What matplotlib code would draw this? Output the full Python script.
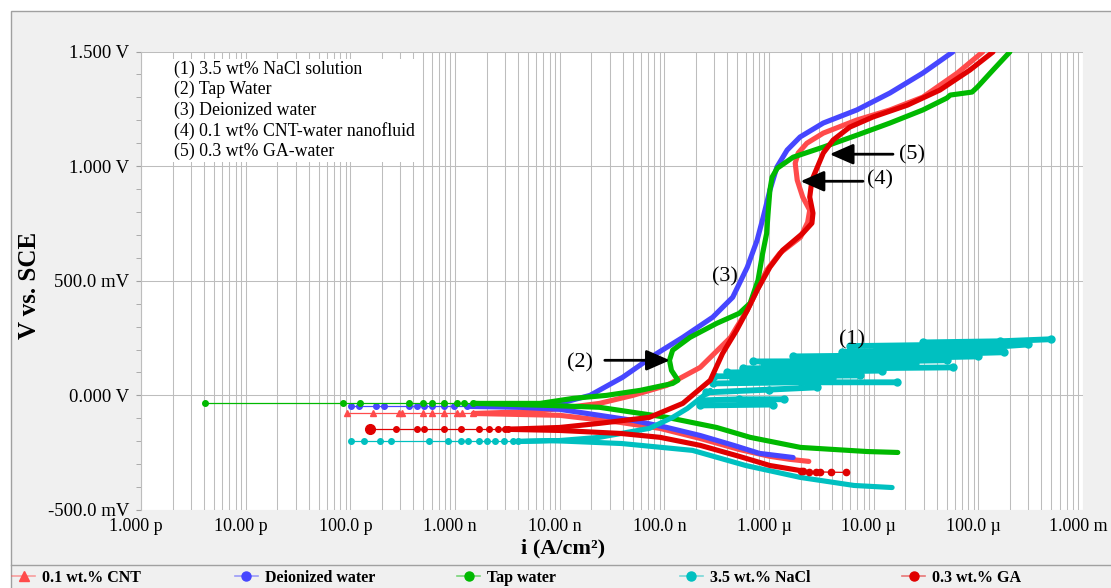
"""
Tafel polarization curves of the five test fluids (log current vs potential).
"""
import matplotlib
matplotlib.use("Agg")
import matplotlib.pyplot as plt
from matplotlib.lines import Line2D
from matplotlib.patches import Rectangle
from matplotlib.ticker import LogLocator, MultipleLocator, NullFormatter
from matplotlib.transforms import ScaledTranslation

plt.rcParams["font.family"] = ["Liberation Serif", "DejaVu Serif"]

# ---- axes ticks -------------------------------------------------------------
x_ticks = [1e-12, 1e-11, 1e-10, 1e-9, 1e-8, 1e-7, 1e-6, 1e-5, 1e-4, 1e-3]
x_tick_labels = ["1.000 p", "10.00 p", "100.0 p", "1.000 n", "10.00 n", "100.0 n",
                 "1.000 \u00b5", "10.00 \u00b5", "100.0 \u00b5", "1.000 m"]
y_ticks = [-0.5, 0.0, 0.5, 1.0, 1.5]
y_tick_labels = ["-500.0 mV", "0.000 V", "500.0 mV", "1.000 V", "1.500 V"]

# ---- 0.1 wt.% CNT -----------------------------------------------------------
cnt_ecorr_v = -0.079
cnt_ecorr_i = [9.3e-11, 1.66e-10, 2.9e-10, 3.1e-10, 4.9e-10, 6.0e-10, 7.8e-10, 1.05e-9, 1.17e-9]
cnt_cath_i = [1.5e-9, 1.0e-8, 3.8e-8, 9.1e-8, 2.2e-7, 5.2e-7, 1.02e-6, 1.58e-6, 2.4e-6]
cnt_cath_v = [-0.079, -0.087, -0.118, -0.144, -0.188, -0.236, -0.266, -0.279, -0.288]
cnt_anod_i = [1.5e-9, 6e-9, 1.0e-8, 2.4e-8, 5.0e-8, 1.06e-7, 2.2e-7, 4.3e-7, 4.9e-7, 6.2e-7,
              7.7e-7, 9.5e-7, 1.27e-6, 2.0e-6, 2.34e-6, 2.45e-6, 2.1e-6, 1.86e-6, 1.78e-6,
              1.9e-6, 2.3e-6, 3.3e-6, 6.9e-6, 1.43e-5, 2.95e-5, 6.3e-5, 1.1e-4]
cnt_anod_v = [-0.079, -0.070, -0.057, -0.035, 0.0, 0.044, 0.122, 0.253, 0.297, 0.371,
              0.459, 0.546, 0.620, 0.690, 0.755, 0.808, 0.865, 0.939, 1.013,
              1.057, 1.100, 1.144, 1.201, 1.245, 1.301, 1.406, 1.498]

# ---- Deionized water --------------------------------------------------------
di_ecorr_v = -0.048
di_ecorr_i = [1.02e-10, 1.2e-10, 1.74e-10, 2.1e-10, 3.6e-10, 4.3e-10, 5.1e-10, 6.0e-10, 7.8e-10, 9.8e-10]
di_cath_i = [1.3e-9, 4.2e-9, 1.0e-8, 2.4e-8, 5.0e-8, 1.06e-7, 2.2e-7, 4.6e-7, 8.1e-7, 1.7e-6]
di_cath_v = [-0.048, -0.052, -0.061, -0.087, -0.109, -0.140, -0.175, -0.218, -0.253, -0.271]
di_anod_i = [1.3e-9, 5e-9, 1.0e-8, 1.95e-8, 4.0e-8, 8.5e-8, 1.5e-7, 2.9e-7, 4.5e-7, 6.2e-7,
             7.7e-7, 8.8e-7, 1.02e-6, 1.19e-6, 1.49e-6, 1.98e-6, 3.3e-6, 6.9e-6, 1.43e-5,
             2.95e-5, 5.7e-5]
di_anod_v = [-0.048, -0.046, -0.035, 0.0, 0.079, 0.183, 0.253, 0.341, 0.428, 0.559,
             0.677, 0.777, 0.895, 0.996, 1.070, 1.127, 1.188, 1.245, 1.319,
             1.406, 1.498]

# ---- Tap water --------------------------------------------------------------
tap_ecorr_v = -0.035
tap_ecorr_i = [4.1e-12, 8.5e-11, 1.23e-10, 3.6e-10, 5.0e-10, 6.0e-10, 7.9e-10, 1.05e-9, 1.23e-9]
tap_cath_i = [1.5e-9, 8.1e-9, 2.4e-8, 1.06e-7, 3.16e-7, 6.6e-7, 2.0e-6, 8.7e-6, 1.7e-5]
tap_cath_v = [-0.035, -0.044, -0.052, -0.096, -0.140, -0.183, -0.227, -0.245, -0.249]
tap_anod_i = [1.5e-9, 6.5e-9, 1.35e-8, 2.8e-8, 5.9e-8, 1.2e-7, 1.35e-7, 1.17e-7, 1.12e-7,
              1.2e-7, 1.76e-7, 3.16e-7, 5.2e-7, 6.6e-7, 7.85e-7, 8.7e-7, 9.5e-7, 9.8e-7,
              1.02e-6, 1.07e-6, 1.2e-6, 1.7e-6, 3.3e-6, 6.9e-6, 1.43e-5, 2.95e-5, 5.0e-5,
              5.4e-5, 8.7e-5, 9.8e-5, 1.38e-4, 2.0e-4]
tap_anod_v = [-0.035, -0.035, -0.013, 0.0, 0.022, 0.052, 0.066, 0.109, 0.153,
              0.197, 0.253, 0.314, 0.358, 0.402, 0.502, 0.620, 0.707, 0.795,
              0.895, 0.952, 0.991, 1.039, 1.083, 1.135, 1.188, 1.245, 1.297,
              1.310, 1.323, 1.345, 1.419, 1.498]

# ---- 3.5 wt.% NaCl ----------------------------------------------------------
nacl_ecorr_v = -0.201
nacl_ecorr_i = [1.02e-10, 1.35e-10, 1.9e-10, 2.45e-10, 5.6e-10, 8.5e-10, 1.15e-9, 1.33e-9,
                1.7e-9, 2.0e-9, 2.4e-9, 2.95e-9, 3.6e-9]
nacl_cath_i = [4e-9, 8.1e-9, 3.9e-8, 1.86e-7, 6.0e-7, 2.0e-6, 6.5e-6, 1.5e-5]
nacl_cath_v = [-0.201, -0.197, -0.210, -0.240, -0.306, -0.358, -0.393, -0.402]
nacl_anod_i = [4e-9, 1.0e-8, 2.4e-8, 7.2e-8, 1.2e-7, 1.66e-7, 2.2e-7, 2.75e-7]
nacl_anod_v = [-0.201, -0.197, -0.183, -0.144, -0.096, -0.057, -0.013, 0.022]
# noisy pitting band above the anodic knee, read as horizontal streaks
nacl_band_i = [[2.2e-7, 1.1e-6], [2.2e-7, 5.2e-7, 1.4e-6], [2.5e-7, 1.0e-6, 2.9e-6],
               [2.9e-7, 2.0e-6, 1.66e-5], [3.0e-7, 2.0e-6, 7.4e-6], [4.0e-7, 3.0e-6, 1.2e-5],
               [5.6e-7, 5.9e-6, 5.75e-5], [7.1e-7, 1.78e-5, 5.0e-5], [2.5e-6, 3.0e-5, 1.0e-4],
               [1.7e-6, 1.78e-5, 1.74e-4], [5.0e-6, 6.0e-5, 3.0e-4], [1.07e-5, 1.62e-4],
               [2.95e-5, 1.62e-4, 5.0e-4], [4.5e-7, 1.5e-6, 4.0e-6], [9.0e-7, 8.0e-6, 2.5e-5],
               [6.0e-6, 4.0e-5, 2.2e-4]]
nacl_band_v = [[-0.044, -0.040], [-0.022, -0.017, -0.017], [0.013, 0.025, 0.035],
               [0.052, 0.057, 0.057], [0.083, 0.085, 0.087], [0.100, 0.104, 0.108],
               [0.118, 0.118, 0.122], [0.148, 0.150, 0.153], [0.160, 0.165, 0.170],
               [0.170, 0.175, 0.188], [0.190, 0.200, 0.222], [0.205, 0.210],
               [0.231, 0.236, 0.245], [0.070, 0.072, 0.075], [0.135, 0.138, 0.140],
               [0.215, 0.220, 0.232]]

# ---- 0.3 wt.% GA ------------------------------------------------------------
ga_ecorr_v = -0.148
ga_ecorr_i = [1.55e-10, 2.75e-10, 4.3e-10, 5.1e-10, 7.9e-10, 1.15e-9, 1.7e-9, 2.1e-9, 2.6e-9, 3.2e-9]
ga_cath_i = [3e-9, 1.0e-8, 3.8e-8, 9.1e-8, 2.2e-7, 5.2e-7, 1.02e-6, 2.0e-6]
ga_cath_v = [-0.148, -0.153, -0.166, -0.183, -0.218, -0.266, -0.306, -0.328]
ga_tail_i = [2.0e-6, 2.1e-6, 2.4e-6, 2.8e-6, 3.1e-6, 3.9e-6, 5.4e-6]
ga_tail_v = [-0.328, -0.332, -0.333, -0.334, -0.334, -0.335, -0.336]
ga_anod_i = [3e-9, 1.0e-8, 2.4e-8, 7.2e-8, 1.5e-7, 2.75e-7, 3.6e-7, 4.9e-7, 6.2e-7, 7.7e-7,
             1.02e-6, 1.35e-6, 2.1e-6, 2.57e-6, 2.63e-6, 2.45e-6, 2.57e-6, 2.9e-6, 3.3e-6,
             4.1e-6, 5.9e-6, 9.8e-6, 2.1e-5, 4.3e-5, 8.3e-5, 1.38e-4]
ga_anod_v = [-0.148, -0.140, -0.122, -0.096, -0.035, 0.066, 0.183, 0.284, 0.371, 0.459,
             0.559, 0.633, 0.707, 0.751, 0.795, 0.865, 0.939, 0.996, 1.057,
             1.114, 1.170, 1.214, 1.266, 1.332, 1.419, 1.498]

legend_names = ["0.1 wt.% CNT", "Deionized water", "Tap water", "3.5 wt.% NaCl", "0.3 wt.% GA"]
box_lines = ["(1) 3.5 wt% NaCl solution", "(2) Tap Water", "(3) Deionized water",
             "(4) 0.1 wt% CNT-water nanofluid", "(5) 0.3 wt% GA-water"]

COLORS = {"cnt": "#ff4b4b", "di": "#4646ff", "tap": "#00b900", "nacl": "#00c0c0", "ga": "#e00000"}
MARKERS = {"cnt": "^", "di": "o", "tap": "o", "nacl": "o", "ga": "o"}
THICK = 3.7
GRID = "#bdbdbd"


def draw_curve(ax, key, ecorr_v, ecorr_i, cath_i, cath_v, anod_i, anod_v):
    c = COLORS[key]
    # sparse points around the corrosion potential
    ax.plot(ecorr_i + [anod_i[0]], [ecorr_v] * (len(ecorr_i) + 1), color=c, lw=0.9,
            marker=MARKERS[key], ms=4, mec=c, mfc=c, zorder=3)
    ax.plot(cath_i, cath_v, color=c, lw=THICK, solid_capstyle="round",
            solid_joinstyle="round", zorder=3)
    ax.plot(anod_i, anod_v, color=c, lw=THICK, solid_capstyle="round",
            solid_joinstyle="round", zorder=3)


def main():
    fig = plt.figure(figsize=(11.11, 5.88), dpi=100, facecolor="white")
    # grey panel with a thin border, and the legend strip separator
    fig.patches.append(Rectangle((10.5 / 1111, -0.01), 1.0, 1 - 11 / 588 + 0.01,
                                 transform=fig.transFigure, facecolor="#f0f0f0",
                                 edgecolor="#a0a0a0", lw=1, zorder=-10))
    fig.lines.append(Line2D([10.5 / 1111, 1.0], [1 - 565 / 588] * 2, transform=fig.transFigure,
                            color="#a0a0a0", lw=1))

    ax = fig.add_axes([141 / 1111, 78 / 588, 942 / 1111, 458.5 / 588])
    ax.set_facecolor("white")
    ax.set_xscale("log")
    ax.set_xlim(1e-12, 1e-3)
    ax.set_ylim(-0.5, 1.5)

    ax.set_xticks(x_ticks, labels=x_tick_labels)
    ax.xaxis.set_minor_locator(LogLocator(base=10, subs=range(2, 10), numticks=30))
    ax.xaxis.set_minor_formatter(NullFormatter())
    ax.set_yticks(y_ticks, labels=y_tick_labels)
    ax.yaxis.set_minor_locator(MultipleLocator(0.1))

    ax.grid(True, which="major", color=GRID, lw=0.75)
    ax.grid(True, which="minor", axis="x", color=GRID, lw=0.75)
    ax.set_axisbelow(True)
    for s in ["top", "right", "bottom"]:
        ax.spines[s].set_visible(False)
    ax.spines["left"].set_color(GRID)

    ax.tick_params(axis="x", which="both", length=0, pad=6, labelsize=13)
    ax.tick_params(axis="y", which="both", length=3.5, color="#a0a0a0", pad=5, labelsize=13.5)
    shift = ScaledTranslation(-5 / 100, 0, fig.dpi_scale_trans)
    for lab in ax.get_xticklabels():
        lab.set_transform(lab.get_transform() + shift)

    draw_curve(ax, "cnt", cnt_ecorr_v, cnt_ecorr_i, cnt_cath_i, cnt_cath_v, cnt_anod_i, cnt_anod_v)
    draw_curve(ax, "di", di_ecorr_v, di_ecorr_i, di_cath_i, di_cath_v, di_anod_i, di_anod_v)
    draw_curve(ax, "tap", tap_ecorr_v, tap_ecorr_i, tap_cath_i, tap_cath_v, tap_anod_i, tap_anod_v)
    draw_curve(ax, "nacl", nacl_ecorr_v, nacl_ecorr_i, nacl_cath_i, nacl_cath_v,
               nacl_anod_i, nacl_anod_v)
    for bi, bv in zip(nacl_band_i, nacl_band_v):
        ax.plot(bi, bv, color=COLORS["nacl"], lw=4.2, marker="o", ms=5,
                solid_capstyle="round", zorder=3)
    draw_curve(ax, "ga", ga_ecorr_v, ga_ecorr_i, ga_cath_i, ga_cath_v, ga_anod_i, ga_anod_v)
    ax.plot(ga_tail_i, ga_tail_v, color=COLORS["ga"], lw=0.9, marker="o", ms=4.5, zorder=3)
    ax.plot(ga_ecorr_i[:1], [ga_ecorr_v], color=COLORS["ga"], marker="o", ms=7, zorder=3)

    # labels on the curves
    ax.text(6.2e-6, 0.240, "(1)", fontsize=16, ha="center", va="center")
    ax.text(1.56e-8, 0.140, "(2)", fontsize=16, ha="center", va="center")
    ax.text(3.8e-7, 0.515, "(3)", fontsize=16, ha="center", va="center")
    ax.text(1.15e-5, 0.939, "(4)", fontsize=16, ha="center", va="center")
    ax.text(2.3e-5, 1.048, "(5)", fontsize=16, ha="center", va="center")
    arrow = dict(arrowstyle="-|>,head_length=0.8,head_width=0.35", color="black", lw=2,
                 shrinkA=0, shrinkB=0, mutation_scale=18)
    ax.annotate("", xy=(1.13e-7, 0.153), xytext=(2.7e-8, 0.153), arrowprops=arrow, zorder=5)
    ax.annotate("", xy=(2.0e-6, 0.934), xytext=(7.9e-6, 0.934), arrowprops=arrow, zorder=5)
    ax.annotate("", xy=(3.8e-6, 1.052), xytext=(1.53e-5, 1.052), arrowprops=arrow, zorder=5)

    ax.text(0.035, 0.980, "\n".join(box_lines), transform=ax.transAxes, fontsize=12.8,
            ha="left", va="top", linespacing=1.23, zorder=6,
            bbox=dict(facecolor="white", edgecolor="none", pad=1.5))

    fig.text(563 / 1111, 1 - 548 / 588, "i (A/cm\u00b2)", fontsize=16, fontweight="bold",
             ha="center", va="center")
    fig.text(30 / 1111, 1 - 285 / 588, "V vs. SCE", fontsize=18, fontweight="bold",
             ha="center", va="center", rotation=90)

    # legend strip: five evenly spaced entries
    for k, (key, name) in enumerate(zip(COLORS, legend_names)):
        c = COLORS[key]
        h = Line2D([], [], color=c + "80", lw=1.2, marker=MARKERS[key], ms=6.5,
                   mfc=c, mec=c)
        fig.legend(handles=[h], labels=[name], loc="center left",
                   bbox_to_anchor=((12 + k * 222.5) / 1111, 1 - 578 / 588),
                   frameon=False, borderpad=0, borderaxespad=0, handlelength=1.45,
                   handletextpad=0.45, prop={"weight": "bold", "size": 11.5})

    fig.savefig("out.png", dpi=100, facecolor=fig.get_facecolor())


if __name__ == "__main__":
    main()
